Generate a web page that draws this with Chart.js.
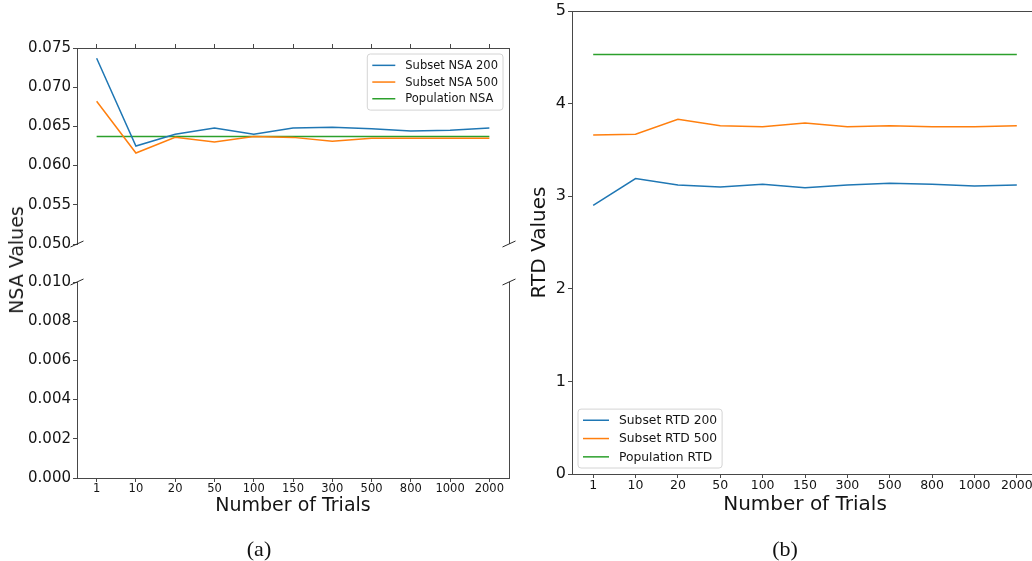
<!DOCTYPE html>
<html>
<head>
<meta charset="utf-8">
<script src="https://cdn.jsdelivr.net/npm/chart.js@4.4.1/dist/chart.umd.min.js"></script>
<style>
  body { margin: 0; width: 1032px; height: 561px; overflow: hidden; background: #fff; position: relative; }
  canvas { position: absolute; }
  .caption { position: absolute; font-family: "Liberation Serif", serif; font-size: 22px; color: #111;
             transform: translate(-50%, -50%); white-space: nowrap; }
  .ylabel { position: absolute; font-family: "DejaVu Sans", sans-serif; font-size: 19px; color: #1a1a1a;
            transform: translate(-50%, -50%) rotate(-90deg); white-space: nowrap; }
</style>
</head>
<body>
<canvas id="nsa-top" width="520" height="250" style="left:0;top:0"></canvas>
<canvas id="nsa-bottom" width="520" height="311" style="left:0;top:250px"></canvas>
<canvas id="rtd" width="520" height="561" style="left:520px;top:0"></canvas>
<div class="ylabel" style="left:16px;top:260px">NSA Values</div>
<div class="caption" style="left:259px;top:549px">(a)</div>
<div class="caption" style="left:785px;top:549px">(b)</div>
<script>
const trials = ['1', '10', '20', '50', '100', '150', '300', '500', '800', '1000', '2000'];

const nsaSubset200 = [0.0737, 0.0625, 0.0640, 0.0648, 0.0640, 0.0648, 0.0649, 0.0647, 0.0644, 0.0645, 0.0648];
const nsaSubset500 = [0.0682, 0.0616, 0.0636, 0.0630, 0.0637, 0.0636, 0.0631, 0.0635, 0.0635, 0.0635, 0.0635];
const nsaPopulation = [0.0637, 0.0637, 0.0637, 0.0637, 0.0637, 0.0637, 0.0637, 0.0637, 0.0637, 0.0637, 0.0637];

const rtdSubset200 = [2.90, 3.19, 3.12, 3.10, 3.13, 3.09, 3.12, 3.14, 3.13, 3.11, 3.12];
const rtdSubset500 = [3.66, 3.67, 3.83, 3.76, 3.75, 3.79, 3.75, 3.76, 3.75, 3.75, 3.76];
const rtdPopulation = [4.53, 4.53, 4.53, 4.53, 4.53, 4.53, 4.53, 4.53, 4.53, 4.53, 4.53];

const COLORS = {
  blue: '#1f77b4',
  orange: '#ff7f0e',
  green: '#2ca02c',
  spine: '#484848',
  text: '#141414',
  legendEdge: '#d4d4d4',
};

Chart.defaults.font.family = "'DejaVu Sans', sans-serif";
Chart.defaults.color = COLORS.text;
Chart.defaults.animation = false;
Chart.defaults.plugins.legend.display = false;
Chart.defaults.plugins.tooltip.enabled = false;

function lineSet(label, data, color) {
  return {
    label, data,
    borderColor: color, backgroundColor: color,
    borderWidth: 1.5, pointRadius: 0, tension: 0, fill: false,
  };
}

// pin axis boxes to fixed sizes so the plot areas line up across canvases
function fixSize(prop, value) {
  return (scale) => {
    scale[prop] = value;
    scale.paddingTop = scale.paddingBottom = scale.paddingLeft = scale.paddingRight = 0;
  };
}

const crisp = (v) => Math.round(v - 0.5) + 0.5;

function strokeLine(ctx, x1, y1, x2, y2) {
  ctx.beginPath();
  ctx.moveTo(x1, y1);
  ctx.lineTo(x2, y2);
  ctx.stroke();
}

// extra spines, broken-axis marks and an in-plot legend
const decor = {
  id: 'decor',
  afterDraw(chart, args, opts) {
    const { ctx, chartArea: a } = chart;
    ctx.save();
    ctx.strokeStyle = COLORS.spine;
    ctx.lineWidth = 1;
    if (opts.rightSpine) strokeLine(ctx, crisp(a.right), a.top, crisp(a.right), a.bottom);
    if (opts.topSpine) strokeLine(ctx, a.left, crisp(a.top), a.right, crisp(a.top));
    if (opts.breakAt) {
      const y = opts.breakAt === 'bottom' ? a.bottom : a.top;
      ctx.strokeStyle = '#2a2a2a';
      for (const x of [a.left, a.right]) strokeLine(ctx, x - 6.5, y + 3, x + 6.5, y - 3);
    }
    const L = opts.legend;
    if (L) {
      const items = chart.data.datasets;
      ctx.font = `${L.size}px 'DejaVu Sans', sans-serif`;
      const textW = Math.max(...items.map((d) => ctx.measureText(d.label).width));
      const w = L.pad + L.sample + L.gap + textW + L.pad;
      const h = items.length * L.row + 2 * L.padV;
      const x0 = L.corner === 'topRight' ? a.right - L.inset - w : a.left + L.inset;
      const y0 = L.corner === 'topRight' ? a.top + L.inset : a.bottom - L.inset - h;
      const r = 3;
      ctx.beginPath();
      ctx.moveTo(x0 + r, y0);
      ctx.arcTo(x0 + w, y0, x0 + w, y0 + h, r);
      ctx.arcTo(x0 + w, y0 + h, x0, y0 + h, r);
      ctx.arcTo(x0, y0 + h, x0, y0, r);
      ctx.arcTo(x0, y0, x0 + w, y0, r);
      ctx.closePath();
      ctx.fillStyle = 'rgba(255,255,255,0.8)';
      ctx.fill();
      ctx.strokeStyle = COLORS.legendEdge;
      ctx.stroke();
      ctx.textBaseline = 'middle';
      ctx.textAlign = 'left';
      items.forEach((d, i) => {
        const cy = y0 + L.padV + L.row * (i + 0.5);
        ctx.strokeStyle = d.borderColor;
        ctx.lineWidth = d.borderWidth;
        strokeLine(ctx, x0 + L.pad, cy, x0 + L.pad + L.sample, cy);
        ctx.fillStyle = COLORS.text;
        ctx.fillText(d.label, x0 + L.pad + L.sample + L.gap, cy + 0.5);
      });
    }
    ctx.restore();
  },
};

function tickGrid(len) {
  return { drawOnChartArea: false, drawTicks: true, tickLength: len, tickColor: COLORS.spine };
}
const spineBorder = { display: true, color: COLORS.spine, width: 1 };

function nsaDatasets() {
  return [
    lineSet('Subset NSA 200', nsaSubset200, COLORS.blue),
    lineSet('Subset NSA 500', nsaSubset500, COLORS.orange),
    lineSet('Population NSA', nsaPopulation, COLORS.green),
  ];
}

// (a) upper half of the broken axis
new Chart(document.getElementById('nsa-top'), {
  type: 'line',
  data: { labels: trials, datasets: nsaDatasets() },
  options: {
    responsive: false,
    layout: { padding: { left: 0, right: 11, top: 0, bottom: 6 } },
    scales: {
      x: {
        position: 'top', offset: true,
        grid: tickGrid(4), border: spineBorder,
        ticks: { display: false },
        afterFit: fixSize('height', 48),
      },
      y: {
        min: 0.05, max: 0.075,
        grid: tickGrid(4), border: spineBorder,
        ticks: { stepSize: 0.005, padding: 2, font: { size: 15 }, callback: (v) => v.toFixed(3) },
        afterFit: fixSize('width', 77),
      },
    },
    plugins: {
      decor: {
        rightSpine: true, breakAt: 'bottom',
        legend: { corner: 'topRight', inset: 6, size: 11.5, pad: 5, padV: 3, sample: 23, gap: 10, row: 16.7 },
      },
    },
  },
  plugins: [decor],
});

// (a) lower half of the broken axis
new Chart(document.getElementById('nsa-bottom'), {
  type: 'line',
  data: { labels: trials, datasets: nsaDatasets() },
  options: {
    responsive: false,
    layout: { padding: { left: 0, right: 11, top: 32, bottom: 44 } },
    scales: {
      x: {
        offset: true,
        grid: tickGrid(4), border: spineBorder,
        ticks: { padding: 0, font: { size: 11.5 }, maxRotation: 0, autoSkip: false },
        title: { display: true, text: 'Number of Trials', font: { size: 19 }, padding: { top: 0, bottom: 0 } },
        afterFit: fixSize('height', 39),
      },
      y: {
        min: 0, max: 0.01,
        grid: tickGrid(4), border: spineBorder,
        ticks: { stepSize: 0.002, padding: 2, font: { size: 15 }, callback: (v) => v.toFixed(3) },
        afterFit: fixSize('width', 77),
      },
    },
    plugins: { decor: { rightSpine: true, breakAt: 'top' } },
  },
  plugins: [decor],
});

// (b) RTD panel
new Chart(document.getElementById('rtd'), {
  type: 'line',
  data: {
    labels: trials,
    datasets: [
      lineSet('Subset RTD 200', rtdSubset200, COLORS.blue),
      lineSet('Subset RTD 500', rtdSubset500, COLORS.orange),
      lineSet('Population RTD', rtdPopulation, COLORS.green),
    ],
  },
  options: {
    responsive: false,
    layout: { padding: { left: 0, right: 2, top: 11, bottom: 44 } },
    scales: {
      x: {
        offset: true,
        grid: tickGrid(4), border: spineBorder,
        ticks: { padding: 0, font: { size: 12.5 }, maxRotation: 0, autoSkip: false },
        title: { display: true, text: 'Number of Trials', font: { size: 20 }, padding: { top: 0, bottom: 0 } },
        afterFit: fixSize('height', 43),
      },
      y: {
        min: 0, max: 5,
        grid: tickGrid(4), border: spineBorder,
        ticks: { stepSize: 1, padding: 2, font: { size: 16 } },
        title: { display: true, text: 'RTD Values', font: { size: 20 }, padding: { top: 8, bottom: 0 } },
        afterFit: fixSize('width', 52),
      },
    },
    plugins: {
      decor: {
        rightSpine: true, topSpine: true,
        legend: { corner: 'bottomLeft', inset: 6, size: 12.3, pad: 5, padV: 2, sample: 26, gap: 10, row: 18.3 },
      },
    },
  },
  plugins: [decor],
});
</script>
</body>
</html>
